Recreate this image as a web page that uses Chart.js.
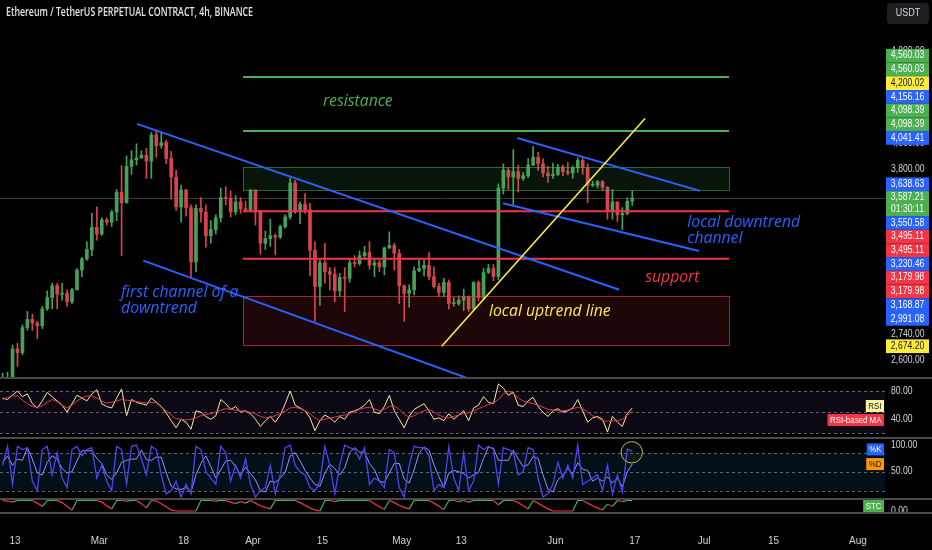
<!DOCTYPE html>
<html>
<head>
<meta charset="utf-8">
<title>ETHUSDT.P 4h</title>
<script src="https://cdn.jsdelivr.net/npm/chart.js@4.4.1/dist/chart.umd.min.js"></script>
<style>
  html, body { margin: 0; padding: 0; background: #000; width: 932px; height: 550px; overflow: hidden; }
  canvas { position: absolute; left: 0; }
  .sep { position: absolute; left: 0; width: 932px; background: #4a4a4a; }
</style>
</head>
<body>
<canvas id="main" width="932" height="377" style="top:0"></canvas>
<div class="sep" style="top:377px;height:2px"></div>
<canvas id="rsi" width="932" height="58" style="top:379px"></canvas>
<div class="sep" style="top:437px;height:2px"></div>
<canvas id="stoch" width="932" height="59" style="top:439px"></canvas>
<div class="sep" style="top:498px;height:2px"></div>
<canvas id="stc" width="932" height="50" style="top:500px"></canvas>
<div class="sep" style="top:512px;height:1.5px"></div>
<script>
// day 0 = 13 Feb, one candle per day starting 10 Feb
const FIRST_DAY = -3;
const FIRST_OPEN = 2450;

const close = [
  2505, 2510, 2660, 2640, 2775, 2820, 2800, 2785, 2880, 2945,
  3015, 2965, 2970, 2920, 2990, 3110, 3180, 3240, 3385, 3340,
  3435, 3420, 3490, 3630, 3555, 3820, 3870, 3885, 3905, 3860,
  4065, 3980, 4005, 3880, 3740, 3525, 3645, 3520, 3160, 3515,
  3490, 3330, 3370, 3450, 3590, 3585, 3490, 3560, 3510, 3505,
  3645, 3500, 3280, 3310, 3330, 3320, 3390, 3455, 3695, 3500,
  3545, 3505, 3235, 3010, 3155, 3100, 3085, 2985, 3065, 3060,
  3155, 3150, 3200, 3220, 3140, 3155, 3130, 3250, 3265, 3215,
  3015, 2970, 2990, 3105, 3120, 3140, 3070, 3010, 2975, 3035,
  2910, 2910, 2930, 2950, 2880, 3035, 2945, 3095, 3120, 3070,
  3660, 3790, 3740, 3780, 3730, 3750, 3830, 3890, 3840, 3770,
  3750, 3760, 3815, 3780, 3770, 3810, 3865, 3810, 3680, 3680,
  3705, 3665, 3500, 3560, 3470, 3480, 3565, 3587.21
];
const high = [
  2535, 2540, 2680, 2690, 2790, 2865, 2850, 2810, 2895, 2985,
  3030, 3030, 3030, 2990, 3000, 3120, 3190, 3290, 3480, 3525,
  3450, 3450, 3500, 3650, 3825, 3900, 3940, 3995, 3940, 3960,
  4085, 4098, 4090, 4025, 3935, 3790, 3680, 3650, 3540, 3540,
  3590, 3540, 3430, 3470, 3660, 3670, 3640, 3605, 3590, 3565,
  3650, 3645, 3500, 3360, 3440, 3340, 3400, 3470, 3730, 3715,
  3560, 3620, 3550, 3290, 3175, 3280, 3125, 3125, 3090, 3125,
  3175, 3200, 3230, 3260, 3290, 3175, 3170, 3255, 3355, 3280,
  3240, 3020, 3020, 3130, 3170, 3170, 3220, 3130, 3030, 3060,
  3050, 2945, 2955, 2995, 2955, 3040, 3045, 3120, 3145, 3145,
  3690, 3840, 3810, 3950, 3830, 3775, 3880, 3975, 3930, 3880,
  3820, 3845, 3835, 3830, 3850, 3825, 3885, 3880, 3840, 3710,
  3715, 3715, 3670, 3650, 3560, 3520, 3590, 3640
];
const low = [
  2440, 2470, 2500, 2570, 2630, 2760, 2760, 2715, 2770, 2870,
  2880, 2880, 2930, 2895, 2910, 2990, 3070, 3170, 3200, 3300,
  3330, 3400, 3390, 3430, 3200, 3550, 3760, 3830, 3880, 3730,
  3730, 3890, 3960, 3840, 3580, 3500, 3420, 3460, 3060, 3100,
  3420, 3255, 3280, 3340, 3420, 3540, 3455, 3470, 3480, 3490,
  3500, 3400, 3210, 3240, 3260, 3205, 3310, 3380, 3440, 3480,
  3410, 3480, 3075, 2810, 2900, 3030, 2990, 2920, 2950, 2865,
  3035, 3130, 3140, 3175, 3115, 3070, 3100, 3080, 3245, 3110,
  2910, 2810, 2890, 2960, 3100, 3075, 3050, 3000, 2950, 2950,
  2880, 2895, 2900, 2870, 2865, 2875, 2925, 2935, 3090, 3045,
  3050, 3615, 3650, 3540, 3630, 3715, 3735, 3825, 3790, 3740,
  3700, 3730, 3750, 3750, 3755, 3730, 3775, 3760, 3555, 3670,
  3660, 3640, 3440, 3440, 3425, 3370, 3470, 3535
];

const rsi = [
  70, 68, 74, 80, 72, 76, 62, 56, 66, 78,
  72, 66, 60, 50, 62, 74, 70, 66, 76, 82,
  62, 58, 56, 70, 83, 45, 68, 64, 62, 60,
  70, 64, 58, 49, 38, 28, 40, 36, 26, 52,
  50, 44, 40, 45, 68, 62, 54, 58, 50, 52,
  48, 40, 30, 38, 44, 36, 46, 62, 80, 60,
  56, 52, 42, 24, 38, 46, 42, 36, 44, 40,
  50, 52, 55, 60, 68, 50, 48, 58, 74, 52,
  40, 28, 44, 54, 58, 62, 52, 40, 42, 38,
  48, 40, 46, 52, 38, 56, 60, 72, 64, 62,
  90, 84, 74, 78, 60, 58, 66, 71, 58, 50,
  44, 52, 55, 50, 52, 56, 68, 52, 36, 42,
  44, 40, 22, 44, 36, 30, 48, 56
];
const rsiMa = [
  68, 71, 73, 73, 67, 62, 58, 57, 59, 64,
  68, 65, 60, 56, 60, 66, 70, 73, 73, 70,
  66, 63, 64, 66, 68, 67, 66, 65, 64, 63,
  64, 63, 57, 52, 46, 41, 40, 39, 40, 42,
  45, 47, 48, 50, 53, 55, 54, 53, 52, 51,
  50, 48, 44, 42, 43, 45, 48, 52, 56, 57,
  55, 52, 48, 42, 38, 40, 42, 43, 45, 46,
  48, 51, 54, 56, 57, 55, 52, 54, 58, 59,
  54, 47, 43, 45, 49, 52, 54, 50, 46, 43,
  42, 44, 46, 48, 49, 52, 55, 58, 61, 63,
  68, 76, 80, 76, 70, 66, 64, 62, 60, 57,
  54, 53, 52, 52, 53, 55, 57, 55, 50, 45,
  42, 38, 37, 38, 38, 40, 46, 51
];
const stochK = [
  60, 90, 30, 90, 85, 88, 35, 20, 85, 90,
  45, 80, 40, 25, 85, 90, 75, 85, 88, 40,
  60, 35, 20, 90, 85, 30, 90, 92, 70, 45,
  90, 85, 45, 15, 20, 35, 10, 30, 15, 90,
  85, 50, 40, 30, 90, 80, 35, 60, 40, 70,
  30, 10, 20, 25, 60, 15, 45, 88, 92, 60,
  50, 45, 25, 20, 35, 90, 60, 15, 60, 92,
  88, 85, 70, 88, 30, 40, 35, 25, 85, 80,
  25, 10, 60, 90, 88, 88, 75, 20, 30, 25,
  90, 40, 20, 80, 20, 35, 92, 85, 90, 85,
  30, 88, 85, 80, 45, 50, 88, 85, 40, 10,
  15, 30, 65, 40, 60, 40, 92, 30, 35, 40,
  45, 20, 60, 15, 45, 18, 86, 82
];
const stochD = [
  65, 75, 60, 70, 68, 88, 70, 48, 45, 65,
  75, 70, 55, 48, 50, 67, 83, 83, 83, 71,
  63, 45, 38, 48, 65, 68, 70, 70, 84, 69,
  68, 73, 73, 48, 27, 23, 22, 25, 18, 45,
  63, 75, 58, 40, 53, 67, 68, 58, 45, 57,
  47, 37, 20, 18, 35, 33, 40, 49, 75, 80,
  67, 52, 40, 30, 27, 48, 62, 55, 45, 56,
  80, 88, 81, 81, 63, 53, 35, 33, 48, 63,
  63, 38, 32, 53, 79, 89, 84, 61, 42, 25,
  48, 52, 50, 47, 40, 45, 49, 71, 89, 87,
  68, 68, 68, 84, 70, 58, 61, 74, 71, 45,
  22, 18, 37, 45, 55, 47, 64, 54, 52, 35,
  40, 35, 42, 32, 40, 26, 50, 62
];
const stc = [
  100, 95, 85, 100, 100, 100, 100, 75, 45, 100,
  100, 100, 80, 45, 10, 100, 100, 100, 100, 100,
  85, 50, 20, 100, 100, 95, 100, 100, 70, 30,
  100, 95, 70, 40, 10, 0, 0, 0, 0, 0,
  100, 100, 100, 95, 100, 100, 85, 70, 90, 75,
  100, 75, 50, 35, 20, 100, 100, 100, 100, 100,
  80, 55, 30, 10, 0, 100, 100, 90, 100, 100,
  100, 100, 100, 100, 100, 70, 40, 15, 100, 80,
  55, 35, 20, 100, 100, 100, 100, 75, 45, 15,
  100, 100, 90, 100, 85, 100, 100, 100, 100, 100,
  60, 100, 100, 100, 80, 50, 20, 100, 75, 45,
  20, 0, 0, 0, 0, 0, 100, 100, 75, 50,
  30, 10, 65, 45, 100, 90, 100, 100
];

const tickDays = [0, 17, 34, 48, 62, 78, 90, 109, 125, 139, 153, 170];
const tickLabels = ['13', 'Mar', '18', 'Apr', '15', 'May', '13', 'Jun', '17', 'Jul', '15', 'Aug'];
const priceTicks = [2600, 2740, 3800, 4000, 4800];

// price scale tags, top to bottom ('p' = last price)
const levelValues = [4560.03, 4560.03, 4200.02, 4156.16, 4098.39, 4098.39, 4041.41, 3638.63, 3587.21,
  3550.58, 3495.11, 3495.11, 3230.46, 3179.98, 3179.98, 3168.87, 2991.08, 2674.20];
const levelKinds = ['g', 'g', 'y', 'b', 'g', 'g', 'b', 'b', 'p', 'b', 'r', 'r', 'b', 'r', 'r', 'b', 'b', 'y'];
const countdown = '01:30:11';

// drawings: [day, price]
const zoneDays = [46, 144];
const greenZone = [3815, 3645];
const redZone = [2955, 2680];
const resistanceLevels = [4560.03, 4098.39];
const supportLevels = [3495.11, 3179.98];
const blueLines = [
  [[24.61, 4156.16], [121.88, 2991.08]],
  [[25.88, 3168.87], [95, 2477]],
  [[101.31, 4041.41], [138.16, 3638.63]],
  [[98.43, 3550.58], [137.96, 3230.46]]
];
const yellowLine = [[86.06, 2674.20], [127.07, 4200.02]];
const notes = [
  { text: ['resistance'], at: [62.1, 4348], kind: 'g' },
  { text: ['first channel of a', 'downtrend'], at: [21.4, 2974], kind: 'b' },
  { text: ['local uptrend line'], at: [95.6, 2868], kind: 'y' },
  { text: ['support'], at: [127.1, 3068], kind: 'r' },
  { text: ['local downtrend', 'channel'], at: [135.6, 3416], kind: 'b' }
];
const circleAt = [124.4, 80.6];

const COL = { g: '#4caf50', y: '#ffeb3b', b: '#2962ff', r: '#f23645', p: '#4caf50' };
const UP = '#47a05a', DOWN = '#d9434f';
const AXIS_TXT = '#d1d4dc';
const X_MIN = -3.0254, X_MAX = 175.474;
const FONT = '"Liberation Sans", Arial, sans-serif';

const xPos = close.map((_, i) => FIRST_DAY + i + 0.5);
const open = close.map((c, i) => (i ? close[i - 1] : FIRST_OPEN));
const candleCol = close.map((c, i) => (c >= open[i] ? UP : DOWN));
const series = arr => arr.map((v, i) => ({ x: xPos[i], y: v }));

// squeeze < 1 narrows the text, maxW caps its width in px
function txt(ctx, s, x, y, font, color, align, squeeze, maxW) {
  ctx.font = font;
  ctx.fillStyle = color;
  ctx.textAlign = align || 'left';
  ctx.textBaseline = 'middle';
  let w = ctx.measureText(s).width * (squeeze || 1);
  if (maxW) w = Math.min(w, maxW);
  ctx.fillText(s, x, y, w);
}
const fmt = v => v.toLocaleString('en-US', { minimumFractionDigits: 2, maximumFractionDigits: 2 });

function xAxis(show) {
  return {
    type: 'linear', min: X_MIN, max: X_MAX, offset: false, display: show,
    grid: { display: false }, border: { display: false },
    afterBuildTicks: s => { s.ticks = tickDays.map(v => ({ value: v })); },
    afterFit: s => {
      s.paddingLeft = 0; s.paddingRight = 0;
      if (show) s.height = 38;
    },
    ticks: {
      autoSkip: false, maxRotation: 0, padding: 15, color: AXIS_TXT,
      font: { family: FONT, size: 10 },
      callback: v => tickLabels[tickDays.indexOf(v)]
    }
  };
}
function yAxis(type, min, max) {
  return {
    type, position: 'right', min, max, bounds: 'data',
    grid: { display: false }, border: { display: false },
    ticks: { display: false },
    afterFit: s => { s.width = 47; }
  };
}
const base = {
  animation: false, responsive: false, events: [],
  layout: { padding: 0 },
  plugins: { legend: { display: false }, tooltip: { enabled: false } }
};

// ---------- main price panel ----------
const drawings = {
  id: 'drawings',
  beforeDatasetsDraw(chart) {
    const { ctx, chartArea: a, scales: { y } } = chart;
    const py = Math.round(y.getPixelForValue(close[close.length - 1])) + 0.5;
    ctx.save();
    ctx.strokeStyle = '#3a3a3a';
    ctx.lineWidth = 1;
    ctx.beginPath(); ctx.moveTo(a.left, py); ctx.lineTo(a.right, py); ctx.stroke();
    ctx.restore();
  },
  afterDatasetsDraw(chart) {
    const { ctx, chartArea: a, scales: { x, y } } = chart;
    const X = d => x.getPixelForValue(d), Y = p => y.getPixelForValue(p);
    ctx.save();
    ctx.beginPath(); ctx.rect(a.left, a.top, a.right - a.left, a.bottom - a.top); ctx.clip();

    const zone = (z, fill, stroke) => {
      const x0 = X(zoneDays[0]), x1 = X(zoneDays[1]), y0 = Y(z[0]), y1 = Y(z[1]);
      ctx.fillStyle = fill; ctx.fillRect(x0, y0, x1 - x0, y1 - y0);
      ctx.strokeStyle = stroke; ctx.lineWidth = 1;
      ctx.strokeRect(Math.round(x0) + 0.5, Math.round(y0) + 0.5, Math.round(x1 - x0), Math.round(y1 - y0));
    };
    zone(greenZone, 'rgba(76,175,80,0.12)', 'rgba(76,175,80,0.55)');
    zone(redZone, 'rgba(242,54,69,0.12)', 'rgba(242,54,69,0.65)');

    const seg = (p, q, color, w) => {
      ctx.strokeStyle = color; ctx.lineWidth = w;
      ctx.beginPath(); ctx.moveTo(X(p[0]), Y(p[1])); ctx.lineTo(X(q[0]), Y(q[1])); ctx.stroke();
    };
    resistanceLevels.forEach(v => seg([zoneDays[0], v], [zoneDays[1], v], COL.g, 2));
    supportLevels.forEach(v => seg([zoneDays[0], v], [zoneDays[1], v], COL.r, 2));
    blueLines.forEach(l => seg(l[0], l[1], COL.b, 2));
    seg(yellowLine[0], yellowLine[1], COL.y, 1.6);

    notes.forEach(n => {
      n.text.forEach((t, i) => {
        txt(ctx, t, X(n.at[0]), Y(n.at[1]) + i * 16, 'italic 16px "Open Sans", sans-serif', COL[n.kind], 'left', 0.985);
      });
    });
    ctx.restore();
  },
  afterDraw(chart) {
    const { ctx, scales: { y } } = chart;
    ctx.save();
    priceTicks.forEach(p => txt(ctx, fmt(p), 891, y.getPixelForValue(p), '10px ' + FONT, AXIS_TXT, 'left', 0.86));

    const H = 13.7;
    const ys = levelValues.map(v => y.getPixelForValue(v));
    const ai = levelKinds.indexOf('p');
    const boxes = [];
    boxes[ai] = { top: ys[ai] - 7, h: 25 };
    for (let i = ai - 1; i >= 0; i--) {
      const bottom = Math.min(ys[i] + H / 2, boxes[i + 1].top);
      boxes[i] = { top: bottom - H, h: H };
    }
    for (let i = ai + 1; i < levelValues.length; i++) {
      const top = Math.max(ys[i] - H / 2, boxes[i - 1].top + boxes[i - 1].h);
      boxes[i] = { top, h: H };
    }
    boxes.forEach((b, i) => {
      const k = levelKinds[i];
      ctx.fillStyle = COL[k];
      ctx.fillRect(886, b.top, 43, b.h);
      const fg = k === 'y' ? '#131722' : '#ffffff';
      if (k === 'p') {
        txt(ctx, fmt(levelValues[i]), 907.5, b.top + 6.5, '10px ' + FONT, fg, 'center', 0.86);
        txt(ctx, countdown, 907.5, b.top + 18.5, '10px ' + FONT, fg, 'center', 0.86);
      } else {
        txt(ctx, fmt(levelValues[i]), 907.5, b.top + b.h / 2, '10px ' + FONT, fg, 'center', 0.86);
      }
    });

    // currency button
    ctx.fillStyle = '#1e1f22';
    ctx.beginPath();
    if (ctx.roundRect) ctx.roundRect(887, 3, 42, 21, 4); else ctx.rect(887, 3, 42, 21);
    ctx.fill();
    txt(ctx, 'USDT', 908, 13.5, '10px ' + FONT, AXIS_TXT, 'center', 0.9);

    txt(ctx, 'Ethereum / TetherUS PERPETUAL CONTRACT, 4h, BINANCE', 6, 13, '600 12px "Open Sans", sans-serif', '#e3e5ea', 'left', 1, 247);
    ctx.restore();
  }
};

new Chart(document.getElementById('main'), {
  type: 'bar',
  data: {
    datasets: [
      {
        data: xPos.map((x, i) => ({ x, y: [Math.min(open[i], close[i]), Math.max(open[i], close[i])] })),
        backgroundColor: candleCol, barThickness: 3, minBarLength: 1, grouped: false, borderWidth: 0
      },
      {
        data: xPos.map((x, i) => ({ x, y: [low[i], high[i]] })),
        backgroundColor: candleCol, barThickness: 1, grouped: false, borderWidth: 0
      }
    ]
  },
  options: Object.assign({}, base, {
    scales: { x: xAxis(false), y: yAxis('logarithmic', 2516.0, 5312.5) }
  }),
  plugins: [drawings]
});

// ---------- oscillator panels ----------
function panel(cfg) {
  return {
    id: 'panel',
    beforeDatasetsDraw(chart) {
      const { ctx, chartArea: a, scales: { y } } = chart;
      ctx.save();
      if (cfg.band) {
        const t = y.getPixelForValue(cfg.band[0]), b = y.getPixelForValue(cfg.band[1]);
        ctx.fillStyle = cfg.bandFill;
        ctx.fillRect(a.left, t, a.right - a.left, b - t);
      }
      ctx.strokeStyle = '#62656f'; ctx.lineWidth = 1; ctx.setLineDash([3, 3]);
      (cfg.dashed || []).forEach(v => {
        const py = Math.round(y.getPixelForValue(v)) + 0.5;
        ctx.beginPath(); ctx.moveTo(a.left, py); ctx.lineTo(a.right, py); ctx.stroke();
      });
      ctx.restore();
    },
    afterDatasetsDraw(chart) {
      if (!cfg.circle) return;
      const { ctx, scales: { x, y } } = chart;
      ctx.save();
      ctx.strokeStyle = '#b8b86a'; ctx.lineWidth = 1;
      ctx.fillStyle = 'rgba(200,200,100,0.06)';
      ctx.beginPath();
      ctx.arc(x.getPixelForValue(cfg.circle[0]), y.getPixelForValue(cfg.circle[1]), 10.7, 0, Math.PI * 2);
      ctx.fill(); ctx.stroke();
      ctx.restore();
    },
    afterDraw(chart) {
      const { ctx, chartArea: a, scales: { y } } = chart;
      ctx.save();
      (cfg.axis || []).forEach(v => {
        txt(ctx, fmt(v), 891, Math.max(y.getPixelForValue(v), 6), '10px ' + FONT, AXIS_TXT, 'left', 0.86);
      });
      let prevBottom = -Infinity;
      (cfg.tags || []).forEach(t => {
        let cy = y.getPixelForValue(t.value) + (t.shift || 0);
        cy = Math.max(cy, prevBottom + 8);
        cy = Math.min(Math.max(cy, 6), a.bottom - 6);
        ctx.font = '9px ' + FONT;
        const w = ctx.measureText(t.text).width * 0.88 + 5;
        ctx.fillStyle = t.bg;
        ctx.fillRect(884 - w, cy - 6, w, 12);
        txt(ctx, t.text, 884 - w / 2, cy + 0.5, '9px ' + FONT, t.fg, 'center', 0.88);
        prevBottom = cy + 6;
      });
      ctx.restore();
    }
  };
}

new Chart(document.getElementById('rsi'), {
  type: 'line',
  data: {
    datasets: [
      { data: series(rsiMa), borderColor: '#e0394a', borderWidth: 1, pointRadius: 0 },
      { data: series(rsi), borderColor: '#f3eba4', borderWidth: 1, pointRadius: 0 }
    ]
  },
  options: Object.assign({}, base, { scales: { x: xAxis(false), y: yAxis('linear', 14.98, 96.96) } }),
  plugins: [panel({
    band: [80, 20], bandFill: 'rgba(126,87,194,0.1)', dashed: [80, 50, 20], axis: [80, 40],
    tags: [
      { text: 'RSI', bg: '#fff59d', fg: '#131722', value: rsi[rsi.length - 1], shift: -2 },
      { text: 'RSI-based MA', bg: '#f23645', fg: '#ffffff', value: rsiMa[rsiMa.length - 1] }
    ]
  })]
});

new Chart(document.getElementById('stoch'), {
  type: 'line',
  data: {
    datasets: [
      { data: series(stochK), borderColor: '#4b47f0', borderWidth: 1.3, pointRadius: 0 },
      { data: series(stochD), borderColor: '#9d90ff', borderWidth: 1, pointRadius: 0 }
    ]
  },
  options: Object.assign({}, base, { scales: { x: xAxis(false), y: yAxis('linear', 8.47, 101.63) } }),
  plugins: [panel({
    band: [80, 20], bandFill: 'rgba(33,150,243,0.1)', dashed: [80, 50, 20], axis: [100, 50],
    circle: circleAt,
    tags: [
      { text: '%K', bg: '#2962ff', fg: '#ffffff', value: stochK[stochK.length - 1], shift: -2 },
      { text: '%D', bg: '#ff9800', fg: '#131722', value: stochD[stochD.length - 1] }
    ]
  })]
});

new Chart(document.getElementById('stc'), {
  type: 'line',
  data: {
    datasets: [{
      data: series(stc), borderWidth: 1.2, pointRadius: 0, borderColor: '#4caf50',
      segment: {
        borderColor: c => {
          const a = c.p0.parsed.y, b = c.p1.parsed.y;
          if (b > a) return '#4caf50';
          if (b < a) return '#f23645';
          return a > 50 ? '#4caf50' : '#f23645';
        }
      }
    }]
  },
  options: Object.assign({}, base, { scales: { x: xAxis(true), y: yAxis('linear', -9.5, 104.8) } }),
  plugins: [panel({
    axis: [0],
    tags: [{ text: 'STC', bg: '#4caf50', fg: '#ffffff', value: stc[stc.length - 1] }]
  })]
});
</script>
</body>
</html>
